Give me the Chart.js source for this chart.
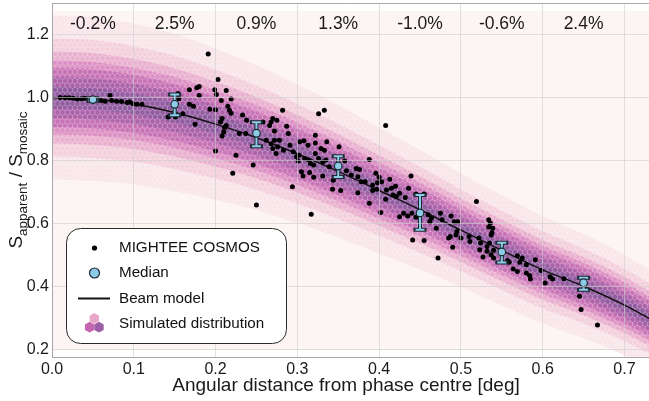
<!DOCTYPE html>
<html>
<head>
<meta charset="utf-8">
<script src="https://cdn.jsdelivr.net/npm/chart.js@4.4.1/dist/chart.umd.min.js"></script>
<style>
  html, body { margin: 0; padding: 0; background: #fff; }
</style>
</head>
<body>
<canvas id="myChart" width="649" height="401"></canvas>
<script>
// MIGHTEE COSMOS sources
const cosmosX = [
  0.010, 0.016, 0.021, 0.026, 0.031, 0.036, 0.040, 0.060, 0.065, 0.071,
  0.073, 0.079, 0.085, 0.092, 0.095, 0.099, 0.104, 0.110, 0.142, 0.151,
  0.154, 0.155, 0.168, 0.177, 0.180, 0.173, 0.175, 0.191, 0.193, 0.200,
  0.199, 0.203, 0.207, 0.208, 0.213, 0.215, 0.217, 0.219, 0.233, 0.238,
  0.268, 0.270, 0.275, 0.282, 0.287, 0.326, 0.333,
  0.180, 0.201, 0.168, 0.219, 0.160, 0.206, 0.211, 0.213, 0.229, 0.237,
  0.210, 0.208, 0.200, 0.225, 0.221, 0.246, 0.250, 0.258, 0.266, 0.272,
  0.289, 0.262, 0.268, 0.272, 0.270, 0.276, 0.278, 0.274, 0.283, 0.291,
  0.295, 0.299, 0.302, 0.294, 0.301,
  0.408, 0.303, 0.308, 0.313, 0.322, 0.322, 0.336, 0.329, 0.333, 0.351,
  0.309, 0.314, 0.322, 0.326, 0.331, 0.335, 0.316, 0.320, 0.339, 0.305,
  0.307, 0.315, 0.320, 0.331, 0.344, 0.343, 0.353, 0.317, 0.358, 0.360,
  0.366, 0.372, 0.376, 0.374, 0.388, 0.378, 0.383, 0.392, 0.396, 0.400,
  0.403, 0.398, 0.413, 0.392, 0.397, 0.409, 0.374, 0.388, 0.408, 0.415,
  0.420, 0.417, 0.421, 0.425, 0.432, 0.436, 0.439, 0.402, 0.425, 0.430,
  0.435, 0.440, 0.445, 0.441,
  0.445, 0.455, 0.460, 0.462, 0.464, 0.470, 0.475, 0.477, 0.488, 0.492,
  0.496, 0.519, 0.455, 0.472, 0.490, 0.485, 0.487, 0.495, 0.494, 0.500,
  0.510, 0.511, 0.522, 0.524, 0.523, 0.527, 0.532, 0.534, 0.536, 0.534,
  0.539, 0.538, 0.537, 0.535, 0.540, 0.532, 0.537, 0.540, 0.557, 0.559,
  0.564, 0.569, 0.575, 0.572, 0.580, 0.569, 0.580, 0.584, 0.591, 0.585,
  0.598, 0.603, 0.609, 0.612, 0.626, 0.645, 0.647, 0.667
]
const cosmosY = [
  1.000, 0.999, 0.999, 0.997, 0.995, 0.996, 0.997, 0.990, 0.988, 1.006,
  0.990, 0.988, 0.987, 0.984, 0.985, 0.980, 0.978, 0.978, 0.938, 0.938,
  1.012, 0.996, 1.024, 1.031, 1.035, 0.972, 0.915, 1.138, 0.962, 0.961,
  1.024, 1.057, 0.990, 0.933, 1.022, 0.972, 0.959, 0.995, 0.944, 0.927,
  0.922, 0.933, 0.927, 0.959, 0.908, 0.948, 0.959,
  1.006, 1.009, 0.978, 0.950, 0.948, 0.922, 0.904, 0.911, 0.885, 0.885,
  0.890, 0.877, 0.830, 0.816, 0.759, 0.785, 0.658, 0.922, 0.911, 0.893,
  0.885, 0.864, 0.853, 0.864, 0.838, 0.843, 0.864, 0.822, 0.832, 0.848,
  0.827, 0.811, 0.816, 0.716, 0.798,
  0.911, 0.859, 0.862, 0.848, 0.880, 0.855, 0.859, 0.838, 0.832, 0.843,
  0.806, 0.801, 0.822, 0.806, 0.795, 0.801, 0.790, 0.785, 0.780, 0.764,
  0.750, 0.761, 0.746, 0.750, 0.737, 0.708, 0.704, 0.629, 0.798, 0.767,
  0.753, 0.774, 0.771, 0.748, 0.803, 0.732, 0.732, 0.722, 0.759, 0.746,
  0.732, 0.729, 0.740, 0.704, 0.708, 0.706, 0.697, 0.664, 0.676, 0.711,
  0.718, 0.690, 0.685, 0.695, 0.682, 0.711, 0.750, 0.634, 0.621, 0.632,
  0.623, 0.632, 0.619, 0.547,
  0.693, 0.693, 0.627, 0.605, 0.616, 0.584, 0.632, 0.611, 0.623, 0.605,
  0.605, 0.669, 0.545, 0.490, 0.524, 0.553, 0.558, 0.574, 0.563, 0.553,
  0.558, 0.542, 0.553, 0.537, 0.516, 0.493, 0.526, 0.611, 0.600, 0.588,
  0.584, 0.571, 0.563, 0.537, 0.514, 0.511, 0.500, 0.490, 0.482, 0.476,
  0.455, 0.497, 0.490, 0.476, 0.468, 0.447, 0.442, 0.434, 0.484, 0.423,
  0.450, 0.410, 0.430, 0.423, 0.424, 0.368, 0.326, 0.277
]

// medians per 0.1 deg bin, with error range
const medianX = [0.05, 0.15, 0.25, 0.35, 0.45, 0.55, 0.65]
const medianY = [0.993, 0.978, 0.886, 0.782, 0.633, 0.509, 0.411]
const medianLo = [0.989, 0.943, 0.845, 0.747, 0.579, 0.475, 0.389]
const medianHi = [0.997, 1.009, 0.921, 0.813, 0.690, 0.538, 0.427]
const offsetLabels = ['-0.2%', '2.5%', '0.9%', '1.3%', '-1.0%', '-0.6%', '2.4%']

// beam model
const beamX = [0, 0.05, 0.1, 0.15, 0.2, 0.25, 0.3, 0.35, 0.4, 0.45, 0.5, 0.55, 0.6, 0.65, 0.7, 0.73]
const beamY = [1.0, 0.995, 0.979, 0.952, 0.915, 0.872, 0.821, 0.765, 0.704, 0.643, 0.578, 0.514, 0.452, 0.400, 0.340, 0.298]

// simulated distribution: outer half width at each beamX, and shade levels
const spreadHalf = [0.26, 0.26, 0.255, 0.25, 0.24, 0.23, 0.22, 0.21, 0.2, 0.19, 0.18, 0.175, 0.17, 0.165, 0.16, 0.155]
const spreadLevels = [1, 0.72, 0.56, 0.45, 0.36, 0.25, 0.13]
const spreadColors = ['#f9e6ea', '#f4d0dd', '#eab0cf', '#dc90c3', '#c873b6', '#ad63aa', '#925ca1']

const xTicks = [0, 0.1, 0.2, 0.3, 0.4, 0.5, 0.6, 0.7]
const yTicks = [0.2, 0.4, 0.6, 0.8, 1.0, 1.2]

const FONT = "'Liberation Sans', Arial, sans-serif"
Chart.defaults.font.family = FONT
Chart.defaults.color = '#1a1a1a'

// hexagon texture so the bands look like a hexbin
function hexPath(ctx, cx, cy, r) {
  ctx.beginPath()
  for (let k = 0; k < 6; k++) {
    const a = Math.PI / 180 * (60 * k + 30)
    const px = cx + r * Math.cos(a), py = cy + r * Math.sin(a)
    if (k === 0) ctx.moveTo(px, py); else ctx.lineTo(px, py)
  }
  ctx.closePath()
}

function hexPattern(color) {
  const c = document.createElement('canvas')
  c.width = 5; c.height = 9
  const g = c.getContext('2d')
  g.fillStyle = color
  g.fillRect(0, 0, 5, 9)
  g.strokeStyle = 'rgba(255,255,255,0.25)'
  g.lineWidth = 0.6
  const centers = [[0, 0], [5, 0], [2.5, 4.5], [0, 9], [5, 9], [-2.5, 4.5], [7.5, 4.5]]
  centers.forEach(p => { hexPath(g, p[0], p[1], 2.9); g.stroke() })
  return g.createPattern(c, 'repeat')
}

const datasets = []

datasets.push({
  label: 'Median',
  data: medianX.map((x, i) => ({ x: x, y: medianY[i] })),
  backgroundColor: '#8ecbe6',
  borderColor: '#1b2a33',
  borderWidth: 1.2,
  pointRadius: 3.8,
  order: 0
})

datasets.push({
  label: 'MIGHTEE COSMOS',
  data: cosmosX.map((x, i) => ({ x: x, y: cosmosY[i] })).filter(p => p.y !== undefined),
  backgroundColor: '#000',
  borderColor: '#000',
  borderWidth: 0,
  pointRadius: 2.5,
  order: 1
})

datasets.push({
  label: 'Beam model',
  type: 'line',
  data: beamX.map((x, i) => ({ x: x, y: beamY[i] })),
  borderColor: '#111',
  borderWidth: 1.5,
  pointRadius: 0,
  cubicInterpolationMode: 'monotone',
  fill: false,
  order: 2
})

// bands: outer first, each one an upper edge plus a lower edge filled to it
spreadLevels.forEach((f, k) => {
  datasets.push({
    label: 'band' + k + 'hi',
    type: 'line',
    data: beamX.map((x, i) => ({ x: x, y: beamY[i] + spreadHalf[i] * f })),
    borderColor: 'transparent',
    borderWidth: 0,
    pointRadius: 0,
    cubicInterpolationMode: 'monotone',
    fill: false,
    order: 100 - k
  })
  datasets.push({
    label: 'band' + k + 'lo',
    type: 'line',
    data: beamX.map((x, i) => ({ x: x, y: beamY[i] - spreadHalf[i] * f })),
    borderColor: 'transparent',
    borderWidth: 0,
    pointRadius: 0,
    cubicInterpolationMode: 'monotone',
    backgroundColor: hexPattern(spreadColors[k]),
    fill: '-1',
    order: 100 - k
  })
})

const decorPlugin = {
  id: 'decor',
  beforeDraw(chart) {
    const ctx = chart.ctx, xs = chart.scales.x, ys = chart.scales.y
    ctx.save()
    ctx.fillStyle = '#fcf5f3'
    const l = xs.getPixelForValue(0), r = xs.getPixelForValue(0.73)
    const t = ys.getPixelForValue(1.275), b = ys.getPixelForValue(0.197)
    ctx.fillRect(l, t, r - l, b - t)
    ctx.restore()
  },
  beforeDatasetDraw(chart, args) {
    if (chart.data.datasets[args.index].label !== 'Median') return
    const ctx = chart.ctx, xs = chart.scales.x, ys = chart.scales.y
    ctx.save()
    const pass = (color, w) => {
      ctx.strokeStyle = color
      ctx.lineWidth = w
      medianX.forEach((mx, i) => {
        const px = xs.getPixelForValue(mx)
        const lo = ys.getPixelForValue(medianLo[i]), hi = ys.getPixelForValue(medianHi[i])
        ctx.beginPath()
        ctx.moveTo(px, lo); ctx.lineTo(px, hi)
        ctx.moveTo(px - 4.5, lo); ctx.lineTo(px + 4.5, lo)
        ctx.moveTo(px - 4.5, hi); ctx.lineTo(px + 4.5, hi)
        ctx.stroke()
      })
    }
    ctx.lineCap = 'square'
    pass('#1b2a33', 4)
    ctx.lineCap = 'butt'
    pass('#8ecbe6', 2)
    ctx.restore()
  },
  afterDraw(chart) {
    const ctx = chart.ctx, xs = chart.scales.x, ys = chart.scales.y, a = chart.chartArea
    ctx.save()

    // top spine
    ctx.strokeStyle = '#a8a8a8'
    ctx.lineWidth = 1
    ctx.beginPath()
    ctx.moveTo(a.left, a.top + 0.5); ctx.lineTo(a.right, a.top + 0.5)
    ctx.stroke()

    // offsets per bin
    ctx.fillStyle = '#1a1a1a'
    ctx.font = '17.5px ' + FONT
    ctx.textAlign = 'center'
    ctx.textBaseline = 'middle'
    offsetLabels.forEach((s, i) => {
      ctx.fillText(s, xs.getPixelForValue(medianX[i]), ys.getPixelForValue(1.234))
    })

    // x title
    ctx.font = '19px ' + FONT
    ctx.textBaseline = 'alphabetic'
    ctx.fillText('Angular distance from phase centre [deg]', 346, 391)

    // y title with subscripts
    const big = '19px ' + FONT, small = '13.5px ' + FONT
    const parts = [['S', big, 0], ['apparent', small, 4.5], [' / S', big, 0], ['mosaic', small, 4.5]]
    let total = 0
    parts.forEach(p => { ctx.font = p[1]; total += ctx.measureText(p[0]).width })
    ctx.translate(22, (a.top + a.bottom) / 2 + total / 2)
    ctx.rotate(-Math.PI / 2)
    ctx.textAlign = 'left'
    let tx = 0
    parts.forEach(p => { ctx.font = p[1]; ctx.fillText(p[0], tx, p[2]); tx += ctx.measureText(p[0]).width })
    ctx.restore()

    // legend box
    ctx.save()
    const bx = 66.5, by = 228.5, bw = 220, bh = 115, rr = 14
    ctx.beginPath()
    ctx.moveTo(bx + rr, by)
    ctx.arcTo(bx + bw, by, bx + bw, by + bh, rr)
    ctx.arcTo(bx + bw, by + bh, bx, by + bh, rr)
    ctx.arcTo(bx, by + bh, bx, by, rr)
    ctx.arcTo(bx, by, bx + bw, by, rr)
    ctx.closePath()
    ctx.fillStyle = 'rgba(255,255,255,0.93)'
    ctx.fill()
    ctx.strokeStyle = '#2a2a2a'
    ctx.lineWidth = 1
    ctx.stroke()

    ctx.fillStyle = '#000'
    ctx.beginPath(); ctx.arc(94.5, 248, 2.6, 0, Math.PI * 2); ctx.fill()

    ctx.beginPath(); ctx.arc(94.5, 273, 5, 0, Math.PI * 2)
    ctx.fillStyle = '#8ecbe6'; ctx.fill()
    ctx.strokeStyle = '#1b2a33'; ctx.lineWidth = 1.2; ctx.stroke()

    ctx.strokeStyle = '#111'; ctx.lineWidth = 2
    ctx.beginPath(); ctx.moveTo(78, 298.5); ctx.lineTo(110, 298.5); ctx.stroke()

    hexPath(ctx, 94.3, 318.5, 5.4); ctx.fillStyle = '#e8a6c8'; ctx.fill()
    hexPath(ctx, 89.6, 327.2, 5.4); ctx.fillStyle = '#c566ae'; ctx.fill()
    hexPath(ctx, 99, 327.2, 5.4); ctx.fillStyle = '#9a5fa5'; ctx.fill()

    ctx.fillStyle = '#111'
    ctx.font = '15.2px ' + FONT
    ctx.textAlign = 'left'
    ctx.textBaseline = 'middle'
    ctx.fillText('MIGHTEE COSMOS', 119, 248)
    ctx.fillText('Median', 119, 273)
    ctx.fillText('Beam model', 119, 298.5)
    ctx.fillText('Simulated distribution', 119, 324)
    ctx.restore()
  }
}

const ctx = document.getElementById('myChart')

new Chart(ctx, {
  type: 'scatter',
  data: { datasets: datasets },
  options: {
    responsive: false,
    animation: false,
    devicePixelRatio: 1,
    layout: { autoPadding: false, padding: { top: 3, right: 0, left: 0, bottom: 0 } },
    plugins: {
      legend: { display: false },
      tooltip: { enabled: false }
    },
    scales: {
      x: {
        type: 'linear',
        min: 0,
        max: 0.73,
        afterFit: s => { s.height = 44; s.paddingLeft = 0; s.paddingRight = 0 },
        afterBuildTicks: s => { s.ticks = xTicks.map(v => ({ value: v })) },
        ticks: { callback: v => v.toFixed(1), font: { size: 16 }, padding: 3, maxRotation: 0, color: '#1a1a1a' },
        grid: { color: 'rgba(205,205,205,0.6)', lineWidth: 1, drawTicks: false, z: 1 },
        border: { color: '#a8a8a8', width: 1, z: 2 }
      },
      y: {
        type: 'linear',
        min: 0.175,
        max: 1.3,
        afterFit: s => { s.width = 52; s.paddingTop = 0; s.paddingBottom = 0 },
        afterBuildTicks: s => { s.ticks = yTicks.map(v => ({ value: v })) },
        ticks: { callback: v => v.toFixed(1), font: { size: 16 }, padding: 3, color: '#1a1a1a' },
        grid: { color: 'rgba(205,205,205,0.6)', lineWidth: 1, drawTicks: false, z: 1 },
        border: { color: '#a8a8a8', width: 1, z: 2 }
      }
    }
  },
  plugins: [decorPlugin]
})
</script>
</body>
</html>
